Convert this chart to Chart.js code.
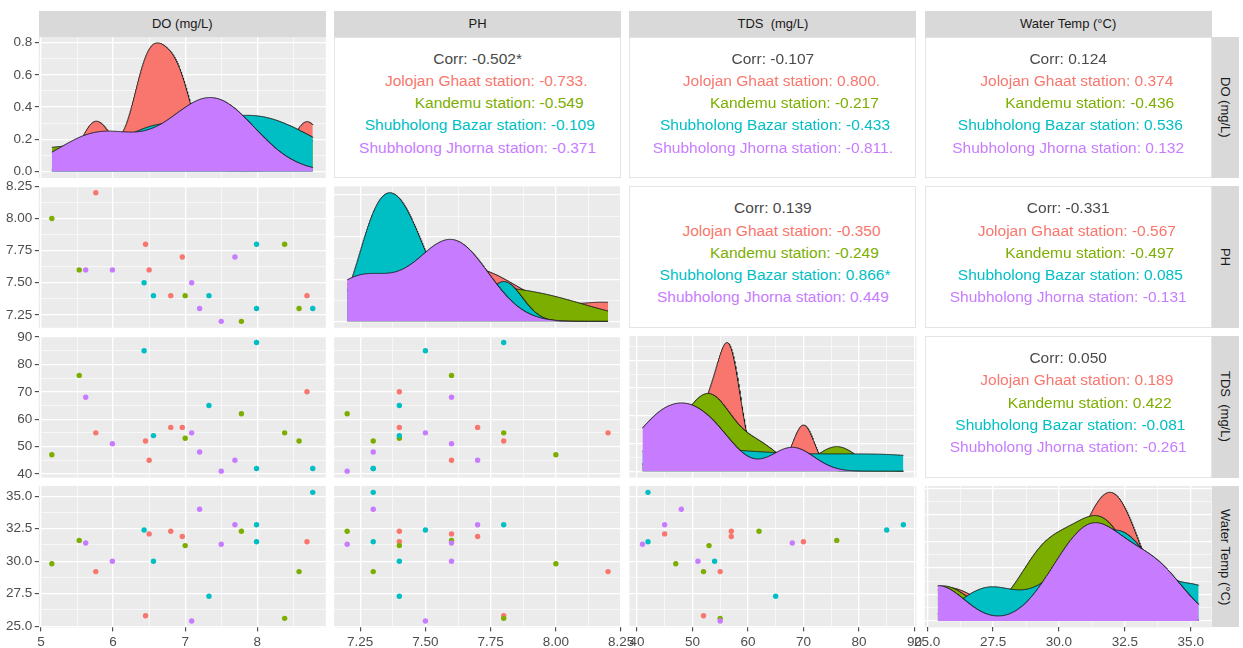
<!DOCTYPE html>
<html>
<head>
<meta charset="utf-8">
<title>Water quality pairs plot</title>
<script src="https://cdn.jsdelivr.net/npm/chart.js@4.4.1/dist/chart.umd.min.js"></script>
<style>
  html, body { margin: 0; padding: 0; background: #fff; }
  body { position: relative; width: 1243px; height: 648px; overflow: hidden; font-family: "Liberation Sans", Arial, sans-serif; }
  canvas { position: absolute; left: 0; top: 0; }
  .strip { position: absolute; background: #D9D9D9; color: #1A1A1A; font-size: 13px; display: flex; align-items: center; justify-content: center; white-space: pre; }
  .strip.side span { writing-mode: vertical-rl; }
  .corr { position: absolute; background: #fff; border: 1px solid #E4E4E4; box-sizing: border-box; }
  .corr div { position: absolute; left: 0; right: 0; text-align: center; white-space: pre; font-size: 15.5px; line-height: 18px; }
</style>
</head>
<body>
<script>
const FONT = '"Liberation Sans", Arial, sans-serif';
const W = 1243, H = 648;

// ---- data -------------------------------------------------------------
const stationNames  = ["Jolojan Ghaat station", "Kandemu station", "Shubholong Bazar station", "Shubholong Jhorna station"];
const stationColors = ["#F8766D", "#7CAE00", "#00BFC4", "#C77CFF"];
const varTitles     = ["DO (mg/L)", "PH", "TDS  (mg/L)", "Water Temp (\u00B0C)"];

// one entry per water sample (index into stationNames)
const sampleStation = [0, 0, 0, 0, 0, 0,  1, 1, 1, 1, 1, 1,  2, 2, 2, 2, 2, 2,  3, 3, 3, 3, 3, 3];
const doValues   = [5.76, 6.45, 6.50, 6.80, 6.96, 8.69,  5.15, 5.53, 7.00, 7.78, 8.38, 8.58,  6.43, 6.56, 7.33, 7.99, 7.99, 8.77,  5.62, 5.99, 7.09, 7.20, 7.50, 7.69];
const phValues   = [8.2, 7.8, 7.6, 7.4, 7.7, 7.4,  8.0, 7.6, 7.4, 7.2, 7.8, 7.3,  7.5, 7.4, 7.4, 7.8, 7.3, 7.3,  7.6, 7.6, 7.5, 7.3, 7.2, 7.7];
const tdsValues  = [55, 52, 45, 57, 57, 70,  47, 76, 53, 62, 55, 52,  85, 54, 65, 88, 42, 42,  68, 51, 55, 48, 41, 45];
const tempValues = [29.2, 25.8, 32.1, 32.3, 31.9, 31.5,  29.8, 31.6, 31.2, 32.3, 25.6, 29.2,  32.4, 30.0, 27.3, 32.8, 31.5, 35.3,  31.4, 30.0, 25.4, 34.0, 31.3, 32.8];

// axis tick labels
const densityTickLabels = ["0.0", "0.2", "0.4", "0.6", "0.8"];
const doTickLabels   = ["5", "6", "7", "8"];
const phTickLabels   = ["7.25", "7.50", "7.75", "8.00", "8.25"];
const tdsTickLabels  = ["40", "50", "60", "70", "80", "90"];
const tempTickLabels = ["25.0", "27.5", "30.0", "32.5", "35.0"];

// correlation panels, in order DO-PH, DO-TDS, DO-Temp, PH-TDS, PH-Temp, TDS-Temp
const corrOverall = ["-0.502*", "-0.107", "0.124", "0.139", "-0.331", "0.050"];
const corrJolojan = ["-0.733.", "0.800.", "0.374", "-0.350", "-0.567", "0.189"];
const corrKandemu = ["-0.549", "-0.217", "-0.436", "-0.249", "-0.497", "0.422"];
const corrBazar   = ["-0.109", "-0.433", "0.536", "0.866*", "0.085", "-0.081"];
const corrJhorna  = ["-0.371", "-0.811.", "0.132", "0.449", "-0.131", "-0.261"];

// ---- layout -----------------------------------------------------------
const PANEL_LEFT = 38.8, PANEL_PITCH_X = 295.3, PANEL_W = 287;
const PANEL_TOP = 36.5, PANEL_PITCH_Y = 149.8, PANEL_H = 141.5;
const colX = c => PANEL_LEFT + PANEL_PITCH_X * c;
const rowY = r => PANEL_TOP + PANEL_PITCH_Y * r;

const variables = [doValues, phValues, tdsValues, tempValues];
const tickLabels = [doTickLabels, phTickLabels, tdsTickLabels, tempTickLabels];

function dataRange(v) { return [Math.min(...v), Math.max(...v)]; }
function expandRange(lo, hi) { const d = (hi - lo) * 0.05; return [lo - d, hi + d]; }

// labelled breaks plus minor grid lines halfway between them
function ticksFromLabels(labels, range) {
  const majors = labels.map(Number);
  const step = majors[1] - majors[0];
  const list = majors.map((v, i) => ({ value: v, lbl: labels[i], isMajor: true }));
  for (let k = -1; k < majors.length; k++) {
    const v = majors[0] + step * (k + 0.5);
    if (v > range[0] && v < range[1]) list.push({ value: v, lbl: '', isMajor: false });
  }
  return list.sort((a, b) => a.value - b.value);
}

// unlabelled grid for the density panels that have no visible y axis
function prettyGrid(lo, hi, range) {
  const span = hi - lo;
  const p = Math.pow(10, Math.floor(Math.log10(span)));
  let step = p;
  for (const m of [0.1, 0.2, 0.5, 1, 2, 5, 10]) {
    step = m * p;
    const first = Math.ceil(lo / step - 1e-9) * step;
    const n = Math.floor((hi - first) / step + 1e-9) + 1;
    if (n <= 6) break;
  }
  const list = [];
  const start = Math.floor(range[0] / step) * step;
  for (let v = start; v <= range[1] + step; v += step) {
    if (v >= range[0] && v <= range[1]) list.push({ value: v, lbl: '', isMajor: true });
    const m = v + step / 2;
    if (m > range[0] && m < range[1]) list.push({ value: m, lbl: '', isMajor: false });
  }
  return list.sort((a, b) => a.value - b.value);
}

// ---- kernel density (Gaussian kernel, Silverman's rule-of-thumb bandwidth) ----
function quantile7(sorted, p) {
  const h = (sorted.length - 1) * p, lo = Math.floor(h);
  const hi = Math.min(lo + 1, sorted.length - 1);
  return sorted[lo] + (h - lo) * (sorted[hi] - sorted[lo]);
}
function bwNrd0(x) {
  const n = x.length;
  const mean = x.reduce((a, b) => a + b, 0) / n;
  const sd = Math.sqrt(x.reduce((a, b) => a + (b - mean) * (b - mean), 0) / (n - 1));
  const s = [...x].sort((a, b) => a - b);
  const iqr = quantile7(s, 0.75) - quantile7(s, 0.25);
  let lo = Math.min(sd, iqr / 1.34);
  if (!(lo > 0)) lo = sd || Math.abs(s[0]) || 1;
  return 0.9 * lo * Math.pow(n, -0.2);
}
function densityCurve(x, from, to, n) {
  const bw = bwNrd0(x);
  const norm = 1 / (x.length * bw * Math.sqrt(2 * Math.PI));
  const out = [];
  for (let i = 0; i < n; i++) {
    const t = from + (to - from) * i / (n - 1);
    let s = 0;
    for (const xi of x) { const z = (t - xi) / bw; s += Math.exp(-0.5 * z * z); }
    out.push({ x: t, y: s * norm });
  }
  return out;
}

// ---- chart helpers ----------------------------------------------------
const panelBackground = {
  id: 'panelBackground',
  beforeDraw(chart) {
    const { ctx, chartArea: a } = chart;
    ctx.save();
    ctx.fillStyle = '#EBEBEB';
    ctx.fillRect(a.left, a.top, a.right - a.left, a.bottom - a.top);
    ctx.restore();
  }
};

function buildAxis(axis, range, ticks, showLabels, size) {
  return {
    type: 'linear',
    position: axis === 'x' ? 'bottom' : 'left',
    bounds: 'data',
    min: range[0],
    max: range[1],
    afterBuildTicks(scale) { scale.ticks = ticks.map(t => ({ value: t.value, lbl: t.lbl, isMajor: t.isMajor })); },
    afterFit(scale) {
      if (axis === 'x') scale.height = size; else scale.width = size;
      scale.paddingLeft = 0; scale.paddingRight = 0; scale.paddingTop = 0; scale.paddingBottom = 0;
    },
    ticks: {
      display: showLabels, autoSkip: false, maxRotation: 0, minRotation: 0, padding: 2.5,
      color: '#4D4D4D', font: { family: FONT, size: 13.5 },
      callback(v, i, arr) { return arr[i].lbl || ''; }
    },
    grid: {
      drawTicks: showLabels, tickLength: 4,
      color: '#FFFFFF',
      lineWidth: c => (c.tick && c.tick.isMajor ? 1.3 : 0.6),
      tickColor: c => (c.tick && c.tick.isMajor ? '#333333' : 'rgba(0,0,0,0)'),
      tickWidth: 1
    },
    border: { display: false }
  };
}

function newCanvas() {
  const cv = document.createElement('canvas');
  cv.width = W; cv.height = H;
  document.body.appendChild(cv);
  return cv;
}

function baseOptions(r, c) {
  const left = colX(c), top = rowY(r);
  return {
    responsive: false, animation: false, events: [],
    plugins: { legend: { display: false }, tooltip: { enabled: false } },
    layout: {
      autoPadding: false,
      padding: {
        left: c === 0 ? 0 : left,
        right: W - (left + PANEL_W),
        top: top,
        bottom: r === 3 ? 0 : H - (top + PANEL_H)
      }
    }
  };
}

const yAxisWidth = colX(0);
const xAxisHeight = H - (rowY(3) + PANEL_H);

const xRanges = variables.map(v => { const [lo, hi] = dataRange(v); return expandRange(lo, hi); });
const xTicks = variables.map((v, i) => ticksFromLabels(tickLabels[i], xRanges[i]));

// ---- diagonal: density per station ------------------------------------
for (let d = 0; d < 4; d++) {
  const vals = variables[d];
  const [lo, hi] = dataRange(vals);
  const curves = stationNames.map((_, k) => densityCurve(vals.filter((_, i) => sampleStation[i] === k), lo, hi, 512));
  const ymax = Math.max(...curves.flat().map(p => p.y));
  const yRange = expandRange(0, ymax);
  const yTicks = d === 0 ? ticksFromLabels(densityTickLabels, yRange) : prettyGrid(0, ymax, yRange);
  const opts = baseOptions(d, d);
  opts.scales = {
    x: buildAxis('x', xRanges[d], xTicks[d], d === 3, d === 3 ? xAxisHeight : 0),
    y: buildAxis('y', yRange, yTicks, d === 0, d === 0 ? yAxisWidth : 0)
  };
  new Chart(newCanvas(), {
    type: 'line',
    data: {
      datasets: curves.map((pts, k) => ({
        data: pts,
        order: 3 - k,
        fill: 'origin',
        backgroundColor: stationColors[k],
        borderColor: '#1A1A1A',
        borderWidth: 0.9,
        pointRadius: 0,
        tension: 0
      }))
    },
    options: opts,
    plugins: [panelBackground]
  });
}

// ---- lower triangle: scatter plots ------------------------------------
const yRanges = xRanges;
const yTicks = variables.map((v, i) => ticksFromLabels(tickLabels[i], yRanges[i]));
for (let r = 1; r < 4; r++) {
  for (let c = 0; c < r; c++) {
    const xs = variables[c], ys = variables[r];
    const opts = baseOptions(r, c);
    opts.scales = {
      x: buildAxis('x', xRanges[c], xTicks[c], r === 3, r === 3 ? xAxisHeight : 0),
      y: buildAxis('y', yRanges[r], yTicks[r], c === 0, c === 0 ? yAxisWidth : 0)
    };
    new Chart(newCanvas(), {
      type: 'scatter',
      data: {
        datasets: [{
          data: xs.map((x, i) => ({ x: x, y: ys[i] })),
          pointBackgroundColor: sampleStation.map(k => stationColors[k]),
          pointBorderWidth: 0,
          pointRadius: 2.7
        }]
      },
      options: opts,
      plugins: [panelBackground]
    });
  }
}

// ---- upper triangle: correlation text ---------------------------------
const keyWidth = Math.max(...stationNames.map(s => s.length));
const groupCorr = [corrJolojan, corrKandemu, corrBazar, corrJhorna];
let pairIndex = 0;
for (let r = 0; r < 4; r++) {
  for (let c = r + 1; c < 4; c++) {
    const box = document.createElement('div');
    box.className = 'corr';
    box.style.left = colX(c) + 'px';
    box.style.top = rowY(r) + 'px';
    box.style.width = PANEL_W + 'px';
    box.style.height = PANEL_H + 'px';
    const lines = [{ text: 'Corr: ' + corrOverall[pairIndex], color: '#4A4A4A' }];
    stationNames.forEach((name, k) => {
      lines.push({ text: name.padStart(keyWidth) + ': ' + groupCorr[k][pairIndex], color: stationColors[k] });
    });
    lines.forEach((ln, i) => {
      const el = document.createElement('div');
      el.textContent = ln.text;
      el.style.color = ln.color;
      el.style.top = (21 + 22.3 * i - 9) + 'px';
      box.appendChild(el);
    });
    document.body.appendChild(box);
    pairIndex++;
  }
}

// ---- facet strips -----------------------------------------------------
varTitles.forEach((t, i) => {
  const top = document.createElement('div');
  top.className = 'strip';
  top.style.left = colX(i) + 'px';
  top.style.top = '11px';
  top.style.width = PANEL_W + 'px';
  top.style.height = (PANEL_TOP - 11) + 'px';
  top.textContent = t;
  document.body.appendChild(top);

  const side = document.createElement('div');
  side.className = 'strip side';
  side.style.left = (colX(3) + PANEL_W) + 'px';
  side.style.top = rowY(i) + 'px';
  side.style.width = '27.5px';
  side.style.height = PANEL_H + 'px';
  const span = document.createElement('span');
  span.textContent = t;
  side.appendChild(span);
  document.body.appendChild(side);
});
</script>
</body>
</html>
